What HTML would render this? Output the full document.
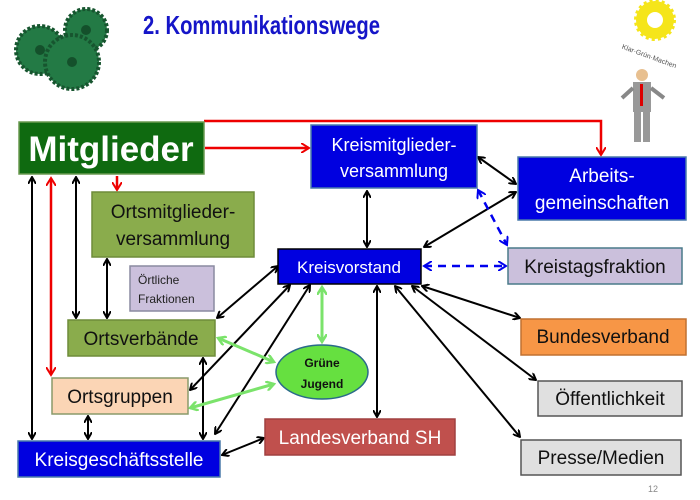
<!DOCTYPE html>
<html><head><meta charset="utf-8"><style>
body{margin:0;background:#fff;}
svg{display:block;font-family:"Liberation Sans",sans-serif;}
</style></head><body>
<svg width="700" height="500" viewBox="0 0 700 500" xmlns="http://www.w3.org/2000/svg">
<defs>
<marker id="k" markerWidth="8" markerHeight="8" refX="7" refY="4" orient="auto-start-reverse" markerUnits="userSpaceOnUse"><path d="M0,0 L7,4 L0,8" fill="none" stroke="#000" stroke-width="2"/></marker>
<marker id="r" markerWidth="10" markerHeight="10" refX="8" refY="5" orient="auto-start-reverse" markerUnits="userSpaceOnUse"><path d="M0,0 L8,5 L0,10" fill="none" stroke="#e00" stroke-width="2"/></marker>
<marker id="g" markerWidth="10" markerHeight="10" refX="8" refY="5" orient="auto-start-reverse" markerUnits="userSpaceOnUse"><path d="M0,0 L8,5 L0,10" fill="none" stroke="#7be36b" stroke-width="2.5"/></marker>
<marker id="b" markerWidth="10" markerHeight="10" refX="8" refY="5" orient="auto-start-reverse" markerUnits="userSpaceOnUse"><path d="M0,0 L8,5 L0,10" fill="none" stroke="#0000ee" stroke-width="2"/></marker>
</defs>
<!-- gears -->
<g fill="#237a45" stroke="#17552f" stroke-width="4" stroke-dasharray="3 2">
<circle cx="40" cy="50" r="24"/><circle cx="86" cy="30" r="21"/><circle cx="72" cy="62" r="27"/>
</g>
<g fill="#14502b"><circle cx="40" cy="50" r="5"/><circle cx="86" cy="30" r="5"/><circle cx="72" cy="62" r="5"/></g>
<text x="143" y="34" font-size="26" font-weight="bold" fill="#1515c8" textLength="237" lengthAdjust="spacingAndGlyphs">2. Kommunikationswege</text>
<!-- sun logo -->
<circle cx="655" cy="20" r="19" fill="#f5e51a" stroke="#f5e51a" stroke-width="4" stroke-dasharray="3 3"/><circle cx="655" cy="20" r="8" fill="#fff"/>
<text x="622" y="55" font-size="7" fill="#555" transform="rotate(20 640 50)">Klar·Grün·Machen</text>
<!-- man -->
<circle cx="642" cy="75" r="6" fill="#e8c090"/>
<rect x="633" y="82" width="18" height="30" fill="#999"/>
<rect x="640" y="84" width="3" height="22" fill="#d00"/>
<path d="M633,88 L622,98 M651,88 L664,98" stroke="#888" stroke-width="4"/>
<rect x="634" y="112" width="7" height="30" fill="#999"/><rect x="643" y="112" width="7" height="30" fill="#999"/>
<!-- arrows black -->
<g stroke="#000" stroke-width="2" fill="none" marker-start="url(#k)" marker-end="url(#k)">
<line x1="32" y1="177" x2="32" y2="439"/>
<line x1="76" y1="177" x2="76" y2="318"/>
<line x1="107" y1="259" x2="107" y2="318"/>
<line x1="88" y1="416" x2="88" y2="439"/>
<line x1="203" y1="358" x2="203" y2="439"/>
<line x1="278" y1="266" x2="217" y2="318"/>
<line x1="290" y1="285" x2="190" y2="390"/>
<line x1="310" y1="285" x2="215" y2="434"/>
<line x1="367" y1="191" x2="367" y2="247"/>
<line x1="478" y1="157" x2="516" y2="184"/>
<line x1="516" y1="192" x2="424" y2="247"/>
<line x1="422" y1="286" x2="520" y2="318"/>
<line x1="412" y1="286" x2="536" y2="380"/>
<line x1="395" y1="286" x2="520" y2="437"/>
<line x1="377" y1="286" x2="377" y2="417"/>
<line x1="222" y1="455" x2="264" y2="438"/>
</g>
<g stroke="#0000ee" stroke-width="2.5" fill="none" stroke-dasharray="8 6" marker-start="url(#b)" marker-end="url(#b)">
<line x1="478" y1="190" x2="507" y2="245"/>
<line x1="424" y1="266" x2="506" y2="266"/>
</g>
<g stroke="#7be36b" stroke-width="3" fill="none" marker-start="url(#g)" marker-end="url(#g)">
<line x1="322" y1="287" x2="322" y2="342"/>
<line x1="274" y1="362" x2="218" y2="338"/>
<line x1="274" y1="384" x2="190" y2="408"/>
</g>
<g stroke="#e00" stroke-width="2.5" fill="none">
<polyline points="204,121 601,121 601,155" marker-end="url(#r)"/>
<line x1="205" y1="148" x2="309" y2="148" marker-end="url(#r)"/>
<line x1="117" y1="176" x2="117" y2="190" marker-end="url(#r)"/>
<line x1="51" y1="178" x2="51" y2="375" marker-start="url(#r)" marker-end="url(#r)"/>
</g>
<!-- boxes -->
<g stroke-width="1.5">
<rect x="19" y="122" width="185" height="52" fill="#0f6a10" stroke="#6a9a50"/>
<rect x="92" y="192" width="162" height="65" fill="#8aac4c" stroke="#6e8c3a"/>
<rect x="130" y="266" width="84" height="45" fill="#cbc0dc" stroke="#8a8aa0"/>
<rect x="68" y="320" width="147" height="36" fill="#8aac4c" stroke="#6e8c3a"/>
<rect x="52" y="378" width="136" height="36" fill="#fbd5b5" stroke="#8a9a6a"/>
<rect x="18" y="441" width="202" height="36" fill="#0000e0" stroke="#4a7aaa"/>
<rect x="265" y="419" width="190" height="36" fill="#c0504d" stroke="#a04040"/>
<rect x="311" y="125" width="166" height="63" fill="#0000e0" stroke="#4a7aaa"/>
<rect x="518" y="157" width="168" height="63" fill="#0000e0" stroke="#4a7aaa"/>
<rect x="278" y="249" width="143" height="35" fill="#0000e0" stroke="#000"/>
<rect x="508" y="248" width="174" height="36" fill="#cbc0dc" stroke="#4a7a8a"/>
<rect x="521" y="319" width="165" height="36" fill="#f79646" stroke="#c07030"/>
<rect x="538" y="381" width="144" height="35" fill="#e0e0e0" stroke="#555"/>
<rect x="521" y="440" width="160" height="35" fill="#e0e0e0" stroke="#555"/>
<ellipse cx="322" cy="372" rx="46" ry="27" fill="#66e040" stroke="#2a6a8a" stroke-width="1.5"/>
</g>
<g font-size="19" text-anchor="middle">
<text x="111" y="161" font-size="35" font-weight="bold" fill="#fff">Mitglieder</text>
<text x="173" y="218" fill="#111">Ortsmitglieder-</text>
<text x="173" y="245" fill="#111">versammlung</text>
<text x="141" y="345" fill="#111">Ortsverbände</text>
<text x="120" y="403" fill="#111">Ortsgruppen</text>
<text x="119" y="466" fill="#fff">Kreisgeschäftsstelle</text>
<text x="360" y="444" fill="#fff">Landesverband SH</text>
<text x="394" y="151" fill="#fff" font-size="18">Kreismitglieder-</text>
<text x="394" y="177" fill="#fff" font-size="18">versammlung</text>
<text x="602" y="182" fill="#fff">Arbeits-</text>
<text x="602" y="209" fill="#fff">gemeinschaften</text>
<text x="349" y="273" fill="#fff" font-size="17">Kreisvorstand</text>
<text x="595" y="273" fill="#111">Kreistagsfraktion</text>
<text x="603" y="343" fill="#111">Bundesverband</text>
<text x="610" y="405" fill="#111">Öffentlichkeit</text>
<text x="601" y="464" fill="#111">Presse/Medien</text>
<text x="322" y="367" font-size="12" font-weight="bold" fill="#111">Grüne</text>
<text x="322" y="388" font-size="12" font-weight="bold" fill="#111">Jugend</text>
</g>
<text x="138" y="284" font-size="12" fill="#222">Örtliche</text>
<text x="138" y="303" font-size="12" fill="#222">Fraktionen</text>
<text x="648" y="492" font-size="9" fill="#888">12</text>
</svg>
</body></html>
